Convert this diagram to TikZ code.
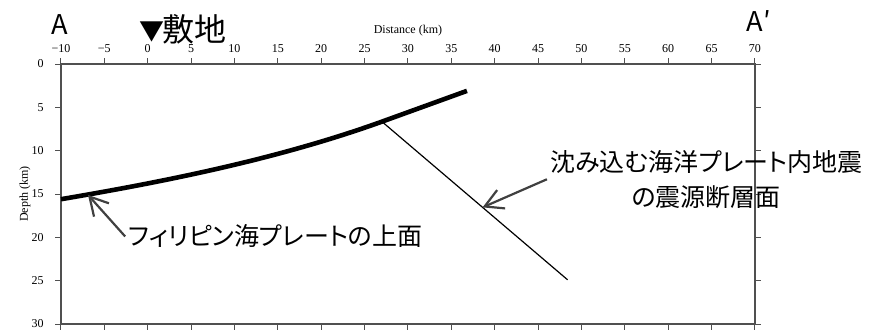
\documentclass[tikz,border=0pt]{standalone}
\usepackage{fontspec}
\setmainfont{Liberation Serif}
\newfontfamily\jpfont[RawFeature=+palt]{Noto Sans CJK JP}
\usepackage{tikz}
\usetikzlibrary{
  arrows.meta,
  positioning,
  calc
}
\usepackage{xcolor}
\definecolor{framegray}{HTML}{505050}
\definecolor{pointgray}{HTML}{404040}

\begin{document}
\begin{tikzpicture}[
    x=4.3375pt, y=-4.3333pt,
    every node/.style={font=\fontsize{6}{7}\selectfont},
    frame/.style={draw=framegray, line width=1pt},
    tick/.style={draw=framegray, line width=0.5pt},
    plate/.style={line width=2.3pt},
    fault/.style={line width=0.6pt},
    toplabel/.style={font=\jpfont\fontsize{13.6}{16}\selectfont, inner sep=0pt},
    jplabel/.style={font=\jpfont\fontsize{12.5}{17.5}\selectfont, align=center, inner sep=1.5pt},
    pointer/.style={-{Straight Barb[length=9pt, width=10pt]}, pointgray, line width=1.1pt}
  ]
    \useasboundingbox (-17.03,-7.385) rectangle (85.22,30.58);
    % section frame
    \draw[frame] (-10,0) rectangle (70,30);
    % distance axis (top) and ticks (bottom)
    \foreach \d in {-10,-5,...,70} {
      \draw[tick] (\d,0) -- (\d,-0.7);
      \draw[tick] (\d,30) -- (\d,30.7);
      \node (dist\d) at (\d,-1.75) {\ifnum\d<0 −\number-\d\else\d\fi};
    }
    \node (dist title) at (30,-3.8) {Distance (km)};
    % depth axis
    \foreach \z in {0,5,...,30} {
      \draw[tick] (-10,\z) -- (-10.7,\z);
      \draw[tick] (70,\z) -- (70.7,\z);
      \node[anchor=east] (depth\z) at (-11.2,\z) {\z};
    }
    \node[rotate=90] (depth title) at (-14.15,15) {Depth (km)};
    % section ends and site
    \node[toplabel, anchor=base] (A) at (-10.1,-3.35) {A};
    \node[toplabel, anchor=base west] (A2) at (69.0,-3.7) {A′};
    \node[toplabel, font=\jpfont\fontsize{16}{18}\selectfont, anchor=base east] (site) at (9.1,-2.55)
      {{\fontsize{12.5}{14}\selectfont\raisebox{0.5pt}{▼}}\kern-1pt敷地};
    % fault plane in the slab
    \coordinate (fault top) at (27,6.65);
    \coordinate (fault bottom) at (48.4,24.9);
    \draw[fault] (fault top) -- (fault bottom);
    % upper surface of the Philippine Sea plate
    \draw[plate] (-10,15.6) .. controls (2,13.56) and (15,10.97) .. (fault top) -- (36.8,3.1);
    % labels with pointers
    \coordinate (plate tip) at (-6.89,15.1);
    \coordinate (fault tip) at ($(fault top)!0.542!(fault bottom)$);
    \node[jplabel, anchor=west] (plate label) at (-2.6,19.9) {フィリピン海プレートの上面};
    \node[jplabel] (slab label) at (64.4,13.3) {沈み込む海洋プレート内地震\\の震源断層面};
    \draw[pointer] (plate label.west) -- (plate tip);
    \draw[pointer] (slab label.west) -- (fault tip);
\end{tikzpicture}
\end{document}
